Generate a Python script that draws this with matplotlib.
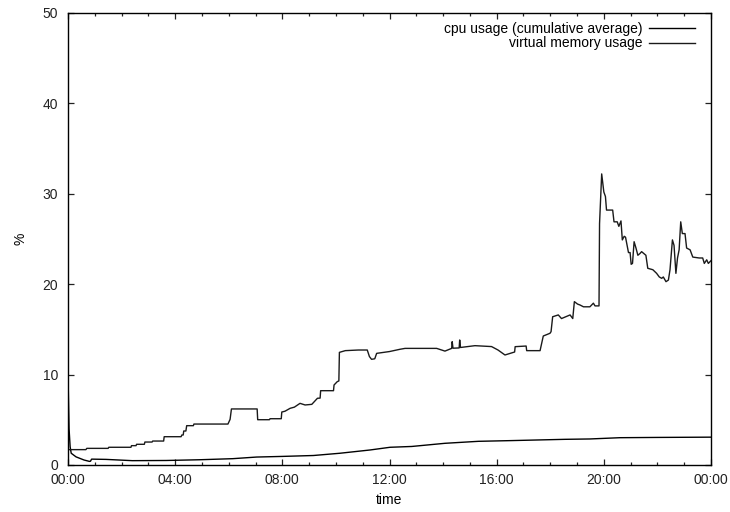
import matplotlib
matplotlib.use("Agg")
import matplotlib.pyplot as plt
from matplotlib.ticker import FixedLocator, MultipleLocator, FuncFormatter

# Time axis in hours since midnight
cpu_hours = [0.0, 0.04, 0.08, 0.12, 0.3, 0.6, 0.8, 0.84, 0.88, 1.42, 2.4, 3.66,
             4.9, 6.15, 7.04, 8.0, 9.16, 10.15, 11.27, 12.02, 12.83, 14.07,
             15.32, 16.56, 18.55, 19.48, 20.6, 22.0, 24.0]
cpu_usage = [10.0, 4.0, 2.0, 1.3, 0.9, 0.55, 0.4, 0.42, 0.65, 0.62, 0.48, 0.5,
             0.58, 0.7, 0.88, 0.95, 1.05, 1.3, 1.66, 1.96, 2.05, 2.4,
             2.62, 2.7, 2.84, 2.88, 3.02, 3.05, 3.08]

mem_hours = [0.03, 0.67, 0.7, 1.5, 1.52, 2.35, 2.37, 2.54, 2.56, 2.85, 2.87, 3.14,
             3.16, 3.57, 3.59, 4.22, 4.25, 4.3, 4.32, 4.4, 4.43, 4.68, 4.7, 5.97,
             6.05, 6.1, 7.06, 7.08, 7.52, 7.54, 7.96, 7.98, 8.1, 8.29, 8.45, 8.66,
             8.85, 9.1, 9.31, 9.41, 9.43, 9.91, 9.93, 10.05, 10.11, 10.13, 10.35,
             10.84, 11.17, 11.25, 11.33, 11.45, 11.52, 12.0, 12.39, 12.58, 13.76,
             14.07, 14.32, 14.34, 14.37, 14.6, 14.62, 14.65, 15.19, 15.81, 16.05,
             16.31, 16.5, 16.67, 16.69, 17.1, 17.12, 17.62, 17.74, 17.99, 18.03,
             18.09, 18.3, 18.42, 18.74, 18.84, 18.9, 19.02, 19.11, 19.24, 19.48,
             19.61, 19.67, 19.82, 19.84, 19.92, 19.96, 20.0, 20.06, 20.1, 20.33,
             20.38, 20.5, 20.56, 20.64, 20.69, 20.76, 20.81, 20.92, 20.98, 21.02,
             21.07, 21.13, 21.2, 21.27, 21.35, 21.41, 21.57, 21.64, 21.83, 21.97,
             22.07, 22.16, 22.22, 22.32, 22.41, 22.47, 22.56, 22.62, 22.69, 22.75,
             22.81, 22.87, 22.93, 23.03, 23.09, 23.22, 23.32, 23.56, 23.69, 23.75,
             23.84, 23.9, 24.0]
mem_usage = [1.7, 1.7, 1.84, 1.84, 1.96, 1.96, 2.14, 2.14, 2.29, 2.29, 2.54, 2.54,
             2.65, 2.65, 3.13, 3.13, 3.32, 3.32, 3.76, 3.76, 4.35, 4.35, 4.53, 4.53,
             5.05, 6.2, 6.2, 5.01, 5.01, 5.12, 5.12, 5.86, 5.95, 6.27, 6.4, 6.82,
             6.64, 6.71, 7.38, 7.4, 8.22, 8.22, 8.85, 9.22, 9.3, 12.46, 12.65,
             12.72, 12.72, 12.0, 11.69, 11.75, 12.35, 12.55, 12.8, 12.9, 12.9,
             12.6, 12.9, 13.64, 12.92, 12.95, 13.83, 13.0, 13.2, 13.1, 12.72,
             12.17, 12.35, 12.5, 13.09, 13.16, 12.65, 12.65, 14.27, 14.57, 14.75,
             16.4, 16.6, 16.2, 16.6, 16.2, 18.07, 17.8, 17.7, 17.5, 17.5,
             17.9, 17.6, 17.6, 26.7, 32.2, 31.2, 30.2, 29.7, 28.2, 28.2,
             26.9, 26.9, 26.4, 27.0, 24.9, 25.3, 25.2, 23.5, 23.5, 22.2,
             22.3, 24.7, 24.0, 23.2, 23.4, 23.6, 23.2, 21.76, 21.6, 21.2,
             20.8, 20.65, 20.8, 20.28, 20.46, 21.6, 24.9, 24.3, 21.2, 22.9,
             23.8, 26.9, 25.6, 25.6, 24.0, 23.8, 23.0, 22.9, 22.9, 22.3,
             22.7, 22.3, 22.6]

x_ticks = [0, 4, 8, 12, 16, 20, 24]
y_ticks = [0, 10, 20, 30, 40, 50]

plt.rcParams["font.family"] = ["Liberation Sans", "DejaVu Sans"]
plt.rcParams["font.size"] = 10

fig = plt.figure(figsize=(7.3, 5.12), dpi=100)
ax = fig.add_axes([68 / 730, 1 - 465 / 512, (711 - 68) / 730, (465 - 13) / 512])

ax.plot(cpu_hours, cpu_usage, color="black", lw=1.0,
        label="cpu usage (cumulative average)")
ax.plot(mem_hours, mem_usage, color="#1a1a1a", lw=1.0,
        label="virtual memory usage")

ax.set_xlim(0, 24)
ax.set_ylim(0, 50)
ax.xaxis.set_major_locator(FixedLocator(x_ticks))
ax.xaxis.set_minor_locator(MultipleLocator(1))
ax.xaxis.set_major_formatter(FuncFormatter(lambda v, p: "%02d:00" % (int(round(v)) % 24)))
ax.yaxis.set_major_locator(FixedLocator(y_ticks))

ax.tick_params(which="both", direction="in", top=True, right=True,
               width=0.9, colors="#222222", labelsize=10)
ax.tick_params(which="major", length=4.3)
ax.tick_params(which="minor", length=2.2)
ax.tick_params(axis="x", pad=6)
ax.tick_params(axis="y", pad=7)
for s in ax.spines.values():
    s.set_linewidth(1.0)

ax.set_xlabel("time", fontsize=10, labelpad=4)
ax.set_ylabel("%", fontsize=10, labelpad=11)

ax.legend(loc="upper right", frameon=False, markerfirst=False,
          handlelength=3.3, handletextpad=0.5, labelspacing=0.05,
          borderaxespad=0.0, bbox_to_anchor=(0.9835, 0.993), fontsize=10)

fig.savefig("out.png", dpi=100)
